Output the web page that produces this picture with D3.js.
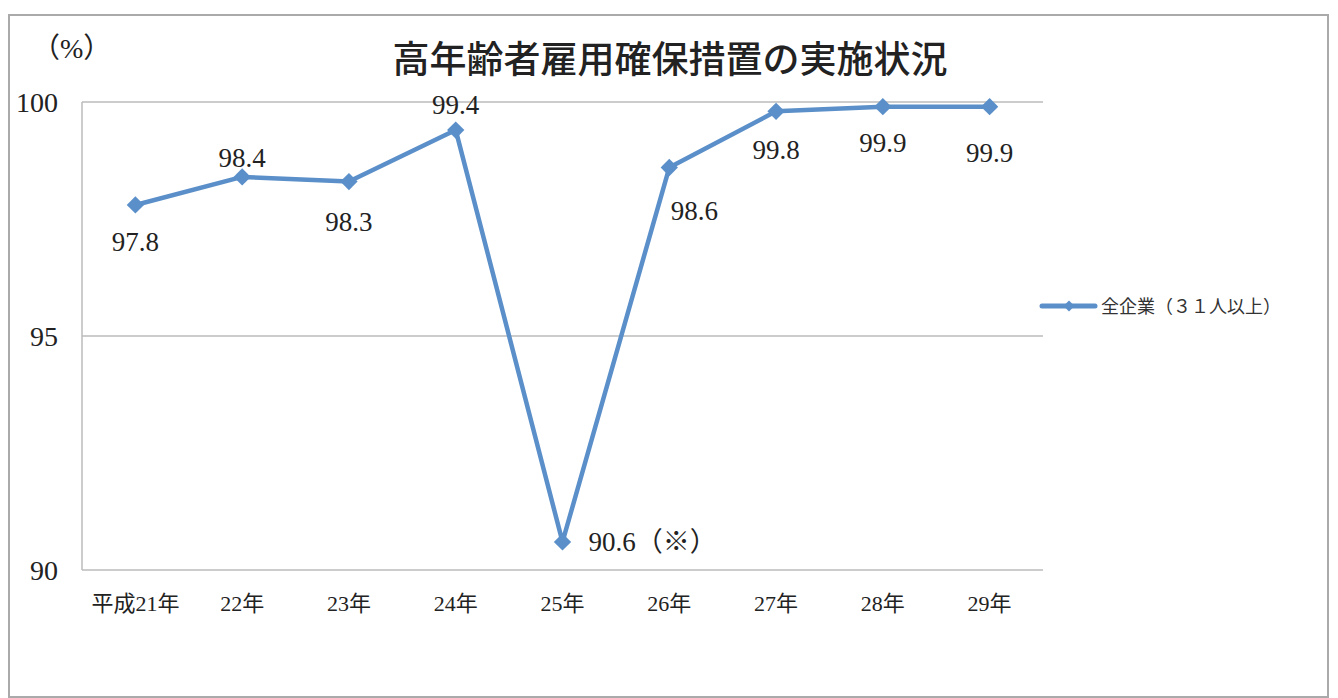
<!DOCTYPE html>
<html>
<head>
<meta charset="utf-8">
<script src="https://cdn.jsdelivr.net/npm/d3@7"></script>
<style>
  body { margin: 0; background: #fff; }
  svg { display: block; }
  .serif { font-family: "Liberation Serif", "DejaVu Serif", "Noto Sans CJK JP", serif; }
  .gothic { font-family: "Noto Sans CJK JP", sans-serif; }
</style>
</head>
<body>
<script>
const years = ["平成21年", "22年", "23年", "24年", "25年", "26年", "27年", "28年", "29年"]
const rates = [97.8, 98.4, 98.3, 99.4, 90.6, 98.6, 99.8, 99.9, 99.9]
const valueLabels = ["97.8", "98.4", "98.3", "99.4", "90.6（※）", "98.6", "99.8", "99.9", "99.9"]
const yTicks = [90, 95, 100]
const seriesName = "全企業（３１人以上）"

// where each value label sits relative to its point
const labelShift = [[0, 46], [0, -10], [0, 49], [0, -16], [26, 9], [25, 52], [0, 48], [0, 45], [0, 55]]

const W = 1338, H = 698
const margin = { left: 82, right: 295, top: 102, bottom: 128 }
const blue = "#5b8fc9"

const svg = d3.select("body").append("svg")
  .attr("width", W)
  .attr("height", H)

// outer frame
svg.append("rect")
  .attr("x", 9).attr("y", 15)
  .attr("width", 1319).attr("height", 682)
  .attr("fill", "none")
  .attr("stroke", "#aaa")
  .attr("stroke-width", 2)

const x = d3.scalePoint()
  .domain(years)
  .range([margin.left, W - margin.right])
  .padding(0.5)

const y = d3.scaleLinear()
  .domain([90, 100])
  .range([H - margin.bottom, margin.top])

// gridlines
svg.append("g")
  .selectAll("line")
  .data(yTicks)
  .join("line")
  .attr("x1", margin.left)
  .attr("x2", W - margin.right)
  .attr("y1", d => y(d))
  .attr("y2", d => y(d))
  .attr("stroke", "#bbb")
  .attr("stroke-width", 1.5)

svg.append("line")
  .attr("x1", margin.left).attr("x2", margin.left)
  .attr("y1", y(100)).attr("y2", y(90))
  .attr("stroke", "#bbb")
  .attr("stroke-width", 1.5)

// y tick labels
svg.append("g")
  .selectAll("text")
  .data(yTicks)
  .join("text")
  .attr("class", "serif")
  .attr("x", 58)
  .attr("y", d => y(d) + 10)
  .attr("text-anchor", "end")
  .attr("font-size", 28)
  .attr("fill", "#222")
  .text(d => d)

svg.append("text")
  .attr("class", "serif")
  .attr("x", 32).attr("y", 58)
  .attr("font-size", 28)
  .attr("fill", "#222")
  .text("（%）")

// x tick labels
svg.append("g")
  .selectAll("text")
  .data(years)
  .join("text")
  .attr("class", "serif")
  .attr("x", d => x(d))
  .attr("y", 611)
  .attr("text-anchor", "middle")
  .attr("font-size", 22)
  .attr("fill", "#222")
  .text(d => d)

// title
svg.append("text")
  .attr("class", "gothic")
  .attr("x", 670).attr("y", 73)
  .attr("text-anchor", "middle")
  .attr("font-size", 37)
  .attr("font-weight", 500)
  .attr("fill", "#222")
  .text("高年齢者雇用確保措置の実施状況")

const line = d3.line()
  .x((d, i) => x(years[i]))
  .y(d => y(d))

svg.append("path")
  .datum(rates)
  .attr("d", line)
  .attr("fill", "none")
  .attr("stroke", blue)
  .attr("stroke-width", 4.5)
  .attr("stroke-linejoin", "round")

const diamond = d3.symbol().type(d3.symbolSquare).size(150)

svg.append("g")
  .selectAll("path")
  .data(rates)
  .join("path")
  .attr("d", diamond)
  .attr("transform", (d, i) => `translate(${x(years[i])},${y(d)}) rotate(45)`)
  .attr("fill", blue)

svg.append("g")
  .selectAll("text")
  .data(rates)
  .join("text")
  .attr("class", "serif")
  .attr("x", (d, i) => x(years[i]) + labelShift[i][0])
  .attr("y", (d, i) => y(d) + labelShift[i][1])
  .attr("text-anchor", (d, i) => i === 4 ? "start" : "middle")
  .attr("font-size", 27)
  .attr("fill", "#222")
  .text((d, i) => valueLabels[i])

// legend
const lg = svg.append("g").attr("transform", "translate(1042,306)")
lg.append("line")
  .attr("x1", 0).attr("x2", 53)
  .attr("stroke", blue)
  .attr("stroke-width", 5)
  .attr("stroke-linecap", "round")
lg.append("path")
  .attr("d", d3.symbol().type(d3.symbolSquare).size(60))
  .attr("transform", "translate(27,0) rotate(45)")
  .attr("fill", blue)
lg.append("text")
  .attr("class", "gothic")
  .attr("x", 59).attr("y", 7)
  .attr("font-size", 18)
  .attr("fill", "#333")
  .text(seriesName)
</script>
</body>
</html>
